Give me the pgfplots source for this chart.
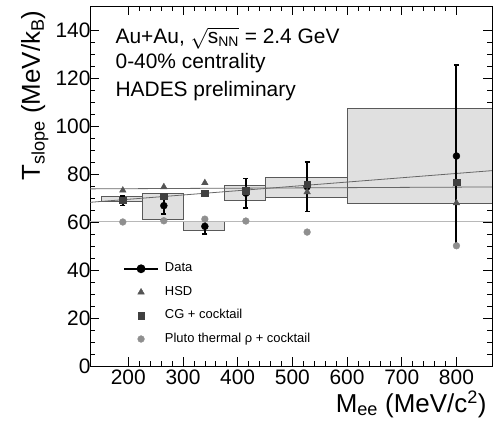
\documentclass[border=0pt]{standalone}
\usepackage{fontspec}
\setmainfont{Liberation Sans}
\usepackage{pgfplots}
\pgfplotsset{compat=1.18}
\usepackage{pgfplotstable}

\definecolor{boxfill}{gray}{0.88}
\definecolor{boxedge}{gray}{0.35}
\definecolor{hsdcol}{gray}{0.33}
\definecolor{cgcol}{gray}{0.25}
\definecolor{plutocol}{gray}{0.56}
\definecolor{flatline}{gray}{0.4}
\definecolor{lightline}{gray}{0.72}

% data points with stat. errors
\pgfplotstableread{
x y ey
190 68.8 2.0
265 66.8 3.5
340 58.2 3.2
415 72.0 6.2
527 74.7 10.4
800 87.5 37.8
}\datatab
\pgfplotstableread{
x y
190 73.2
265 74.6
340 76.3
415 73.2
527 72.5
800 67.9
}\hsdtab
\pgfplotstableread{
x y
190 69.0
265 70.8
340 72.0
415 73.1
527 75.8
800 76.5
}\cgtab
\pgfplotstableread{
x y
190 60.0
265 60.5
340 61.2
415 60.4
527 55.8
800 50.1
}\plutotab

\pgfplotsset{
  legmark/.style={legend image code/.code={%
    \draw[mark repeat=2,mark phase=2,##1] plot coordinates {(0bp,0bp) (17bp,0bp) (34bp,0bp)};}},
  sysbox/.style={fill=boxfill, draw=boxedge, line width=0.7pt, forget plot},
}

\begin{document}
\begin{tikzpicture}
\useasboundingbox (0,0) rectangle (494bp,424bp);
\begin{axis}[
  at={(90bp,58bp)}, anchor=south west,
  scale only axis, width=402bp, height=360bp,
  xmin=130, xmax=865, ymin=0, ymax=150,
  xtick={200,300,...,800}, ytick={0,20,...,140},
  minor x tick num=4, minor y tick num=3,
  tick align=inside,
  major tick length=9bp, minor tick length=5bp,
  every tick/.style={black, line width=0.7pt},
  axis line style={line width=0.9pt},
  /pgf/number format/assume math mode=true,
  ticklabel style={font=\fontsize{21}{24}\selectfont},
  yticklabel style={xshift=4bp},
  xlabel={M\textsubscript{ee} (MeV/c\textsuperscript{2})},
  ylabel={T\textsubscript{slope} (MeV/k\textsubscript{B})},
  label style={font=\fontsize{26}{30}\selectfont},
  x label style={at={(axis description cs:0.995,-0.128)}, anchor=base east},
  y label style={at={(axis description cs:-0.095,0.997)}, anchor=south east, rotate=0},
  legend style={draw=none, fill=none, inner sep=0pt,
    at={(axis description cs:0.082,0.29)}, anchor=north west,
    font=\fontsize{13}{15}\selectfont, row sep=9.5pt,
    nodes={inner sep=1pt, text height=9pt, text depth=3pt},
    /tikz/every odd column/.append style={column sep=5bp}},
  legend cell align=left,
]
% systematic boxes
\addplot[sysbox] coordinates {(150,68.5) (225,68.5) (225,70.5) (150,70.5)} -- cycle;
\addplot[sysbox] coordinates {(225,61.0) (300,61.0) (300,72.1) (225,72.1)} -- cycle;
\addplot[sysbox] coordinates {(300,56.5) (375,56.5) (375,60.3) (300,60.3)} -- cycle;
\addplot[sysbox] coordinates {(375,68.9) (450,68.9) (450,75.2) (375,75.2)} -- cycle;
\addplot[sysbox] coordinates {(450,70.4) (600,70.4) (600,78.8) (450,78.8)} -- cycle;
\addplot[sysbox] coordinates {(600,67.6) (900,67.6) (900,107.3) (600,107.3)} -- cycle;

% fit lines
\addplot[lightline, line width=0.8pt, forget plot] coordinates {(130,60.3) (865,60.3)};
\addplot[flatline, line width=0.8pt, forget plot] coordinates {(130,73.8) (865,74.6)};
\addplot[flatline, line width=0.8pt, forget plot] coordinates {(130,68.2) (865,81.4)};

% data
\addplot[black, only marks, mark=*, mark size=3.5pt, forget plot,
  error bars/.cd, y dir=both, y explicit,
  error bar style={line width=2pt},
  error mark options={rotate=90, mark size=2.5pt, line width=1.6pt}]
  table[x=x, y=y, y error=ey] {\datatab};
\addplot[plutocol, only marks, mark=*, mark size=3.4pt, forget plot] table {\plutotab};
\addplot[hsdcol, only marks, mark=triangle*, mark size=3.8pt, forget plot] table {\hsdtab};
\addplot[cgcol, only marks, mark=square*, mark size=3.3pt, forget plot] table {\cgtab};

\addlegendimage{black, line width=1.8pt, mark=*, mark size=3.5pt, legmark}
\addlegendentry{Data}
\addlegendimage{hsdcol, only marks, mark=triangle*, mark size=3.8pt, legmark}
\addlegendentry{HSD}
\addlegendimage{cgcol, only marks, mark=square*, mark size=3.3pt, legmark}
\addlegendentry{CG + cocktail}
\addlegendimage{plutocol, only marks, mark=*, mark size=3.4pt, legmark}
\addlegendentry{Pluto thermal ρ + cocktail}

\node[anchor=base west, font=\fontsize{21}{24}\selectfont] at (axis description cs:0.055,0.896)
  {Au+Au, $\sqrt{\mbox{s}_{\mbox{\fontsize{14}{16}\selectfont NN}}}$ = 2.4 GeV};
\node[anchor=base west, font=\fontsize{21}{24}\selectfont] at (axis description cs:0.055,0.825)
  {0-40\% centrality};
\node[anchor=base west, font=\fontsize{21}{24}\selectfont] at (axis description cs:0.055,0.748)
  {HADES preliminary};
\end{axis}
\end{tikzpicture}
\end{document}
